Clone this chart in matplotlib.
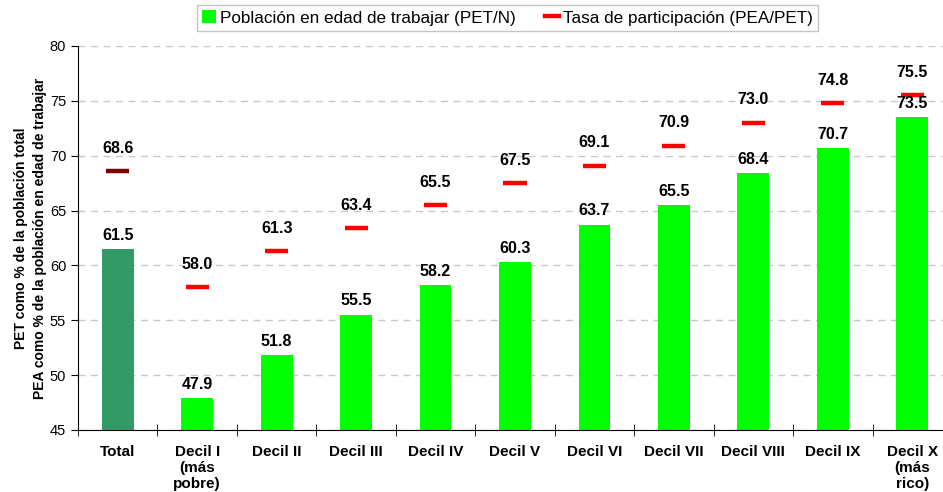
import numpy as np
import matplotlib
matplotlib.use("Agg")
import matplotlib.pyplot as plt
from matplotlib.lines import Line2D
from matplotlib.patches import Patch

plt.rcParams['font.family'] = ['Liberation Sans', 'DejaVu Sans']

# Data
categories = ['Total', 'Decil I\n(más\npobre)', 'Decil II', 'Decil III', 'Decil IV',
              'Decil V', 'Decil VI', 'Decil VII', 'Decil VIII', 'Decil IX',
              'Decil X\n(más\nrico)']
pet = [61.5, 47.9, 51.8, 55.5, 58.2, 60.3, 63.7, 65.5, 68.4, 70.7, 73.5]
tasa = [68.6, 58.0, 61.3, 63.4, 65.5, 67.5, 69.1, 70.9, 73.0, 74.8, 75.5]

bar_colors = ['#339966'] + ['#00ff00'] * 10
mark_colors = ['#800000'] + ['#ff0000'] * 10

fig = plt.figure(figsize=(9.43, 4.92), dpi=100)
ax = fig.add_axes([78 / 943, 1 - 430 / 492, 874 / 943, 384 / 492])

x = np.arange(len(categories))
ax.bar(x, pet, width=0.4, color=bar_colors, bottom=0, zorder=2)
for xi, v, c in zip(x, tasa, mark_colors):
    ax.plot([xi - 0.145, xi + 0.145], [v, v], color=c, lw=3.2, solid_capstyle='butt', zorder=3)

for xi, v in zip(x, pet):
    ax.annotate(f'{v:.1f}', (xi, v), xytext=(0, 10), textcoords='offset points',
                ha='center', va='center', fontsize=11.5, fontweight='bold')
for xi, v in zip(x, tasa):
    ax.annotate(f'{v:.1f}', (xi, v), xytext=(0, 16.5), textcoords='offset points',
                ha='center', va='center', fontsize=11.5, fontweight='bold')

ax.set_ylim(45, 80)
ax.set_xlim(-0.5, len(categories) - 0.5)
ax.set_yticks(np.arange(45, 81, 5))
ax.tick_params(axis='y', labelsize=10.5, length=5, direction='out')
ax.yaxis.grid(True, color='#c8c8c8', linestyle=(0, (5, 4)), lw=1)
ax.set_axisbelow(True)

ax.set_xticks(x)
ax.set_xticklabels(categories, fontsize=11, fontweight='bold', linespacing=1.2)
ax.tick_params(axis='x', which='major', length=0, pad=10.5)
ax.set_xticks(np.arange(-0.5, len(categories)), minor=True)
ax.tick_params(axis='x', which='minor', length=8, direction='inout')

for s in ['top', 'right']:
    ax.spines[s].set_visible(False)

ax.set_ylabel('PET como % de la población total\nPEA como % de la población en edad de trabajar',
              fontsize=10, fontweight='bold', labelpad=2, linespacing=1.45)

handles = [Patch(facecolor='#00ff00', edgecolor='none'),
           Line2D([], [], color='#ff0000', lw=3.2)]
leg = fig.legend(handles, ['Población en edad de trabajar (PET/N)',
                           'Tasa de participación (PEA/PET)'],
                 loc='upper center', bbox_to_anchor=(507.5 / 943, 1 - 5 / 492), ncol=2,
                 fontsize=12.3, frameon=True, fancybox=False, handlelength=0.8,
                 handleheight=0.8, handletextpad=0.25, columnspacing=1.7,
                 borderpad=0.3, borderaxespad=0)
leg.get_frame().set_edgecolor('#b8b8b8')
leg.get_frame().set_linewidth(1)

fig.savefig('out.png', dpi=100)
